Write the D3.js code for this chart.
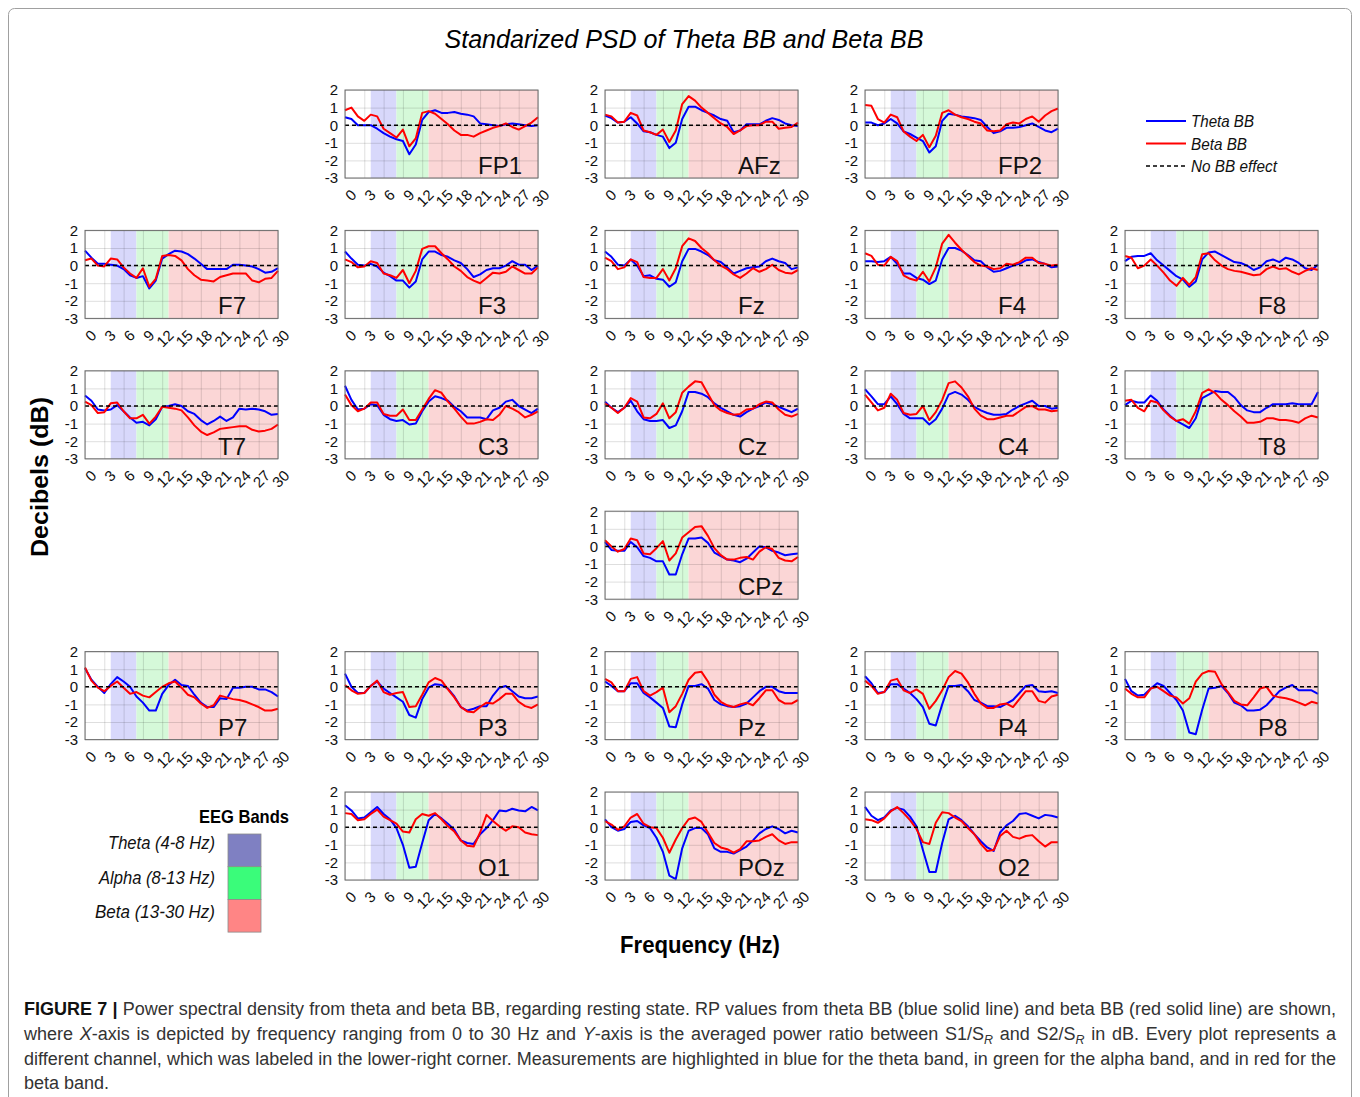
<!DOCTYPE html>
<html>
<head>
<meta charset="utf-8">
<script src="https://cdn.jsdelivr.net/npm/d3@7/dist/d3.min.js"></script>
<style>
  html, body { margin: 0; padding: 0; background: #fff; }
  svg { display: block; font-family: "Liberation Sans", Arial, sans-serif; }
</style>
</head>
<body>
<svg id="chart" width="1360" height="1097"></svg>
<script>
// ---- data ----
const freqs = [0,1,2,3,4,5,6,7,8,9,10,11,12,13,14,15,16,17,18,19,20,21,22,23,24,25,26,27,28,29,30];
const xTicks = [0,3,6,9,12,15,18,21,24,27,30];
const yTicks = [-3,-2,-1,0,1,2];
const bandNames = ['Theta (4-8 Hz)', 'Alpha (8-13 Hz)', 'Beta (13-30 Hz)'];
const bandEdges = [[4, 8], [8, 13], [13, 30]];
const seriesNames = ['Theta BB', 'Beta BB', 'No BB effect'];

const channels = ['FP1','AFz','FP2','F7','F3','Fz','F4','F8','T7','C3','Cz','C4','T8','CPz','P7','P3','Pz','P4','P8','O1','POz','O2'];

// theta BB, one row per channel (same order as channels)
const thetaBB = [
  [0.45,0.35,0.0,0.0,0.0,-0.2,-0.45,-0.65,-0.8,-0.9,-1.65,-1.1,0.3,0.75,0.85,0.7,0.7,0.75,0.65,0.6,0.5,0.1,0.05,0.0,-0.05,0.05,0.1,0.05,0.0,-0.05,0.0], // FP1
  [0.55,0.4,0.15,0.2,0.45,0.1,-0.35,-0.4,-0.55,-0.65,-1.3,-1.0,0.35,1.05,1.05,0.85,0.7,0.55,0.35,0.25,-0.4,-0.3,0.05,0.05,0.05,0.25,0.4,0.3,0.1,0.0,-0.05], // AFz
  [0.15,0.15,0.0,0.1,0.35,0.1,-0.35,-0.5,-0.7,-0.9,-1.55,-1.2,0.25,0.65,0.6,0.5,0.45,0.4,0.3,-0.1,-0.45,-0.35,-0.15,-0.15,-0.1,0.0,0.1,-0.1,-0.3,-0.4,-0.2], // FP2
  [0.85,0.45,0.1,0.1,0.05,0.0,-0.2,-0.55,-0.7,-0.6,-1.3,-0.85,0.4,0.65,0.85,0.8,0.65,0.4,0.1,-0.2,-0.2,-0.2,-0.2,0.05,0.05,0.0,-0.05,-0.2,-0.4,-0.35,-0.15], // F7
  [0.8,0.4,0.05,0.0,0.1,-0.05,-0.4,-0.6,-0.85,-0.85,-1.25,-0.9,0.35,0.8,0.8,0.6,0.5,0.3,0.15,-0.2,-0.65,-0.5,-0.25,-0.15,-0.15,0.0,0.25,0.05,0.05,-0.25,0.0], // F3
  [0.8,0.5,0.05,0.0,0.35,0.0,-0.6,-0.55,-0.75,-0.8,-1.2,-0.95,0.25,0.95,0.95,0.8,0.6,0.3,0.2,-0.1,-0.45,-0.3,-0.15,-0.1,-0.05,0.25,0.4,0.25,0.15,-0.2,-0.1], // Fz
  [0.25,0.25,0.2,0.25,0.5,0.1,-0.45,-0.45,-0.7,-0.8,-1.05,-0.85,0.35,1.0,1.0,0.85,0.6,0.3,0.25,-0.1,-0.35,-0.3,-0.15,0.0,0.1,0.3,0.35,0.2,0.1,-0.1,-0.05], // F4
  [0.25,0.5,0.55,0.55,0.7,0.3,0.0,-0.3,-0.6,-0.8,-1.2,-0.9,0.35,0.75,0.8,0.6,0.4,0.2,0.15,0.0,-0.25,-0.1,0.25,0.35,0.2,0.45,0.35,0.15,-0.15,-0.25,0.05], // F8
  [0.6,0.3,-0.2,-0.25,-0.2,0.05,-0.3,-0.65,-0.95,-0.9,-1.1,-0.75,-0.05,0.0,0.1,0.0,-0.3,-0.45,-0.8,-1.05,-0.85,-0.6,-0.85,-0.65,-0.15,-0.2,-0.15,-0.2,-0.3,-0.5,-0.45], // T7
  [1.15,0.35,-0.2,-0.15,0.1,0.05,-0.5,-0.75,-0.85,-0.8,-1.05,-1.0,-0.3,0.25,0.55,0.45,0.3,-0.05,-0.3,-0.65,-0.65,-0.65,-0.75,-0.25,-0.1,0.25,0.35,0.0,-0.2,-0.4,-0.15], // C3
  [0.25,-0.1,-0.35,-0.1,0.3,-0.3,-0.75,-0.85,-0.85,-0.8,-1.25,-1.1,-0.3,0.8,0.8,0.7,0.5,0.15,-0.1,-0.3,-0.5,-0.6,-0.35,-0.15,0.0,0.2,0.1,-0.05,-0.2,-0.35,-0.15], // Cz
  [0.95,0.55,0.1,0.1,0.55,0.1,-0.45,-0.7,-0.7,-0.7,-1.05,-0.75,-0.15,0.65,0.8,0.65,0.35,-0.05,-0.25,-0.4,-0.5,-0.5,-0.45,-0.2,0.0,0.15,0.3,0.0,0.0,-0.15,-0.1], // C4
  [0.05,0.3,0.2,0.2,0.6,0.3,-0.2,-0.55,-0.85,-1.05,-1.25,-0.7,0.45,0.65,0.85,0.8,0.8,0.5,0.05,-0.25,-0.35,-0.35,-0.1,0.1,0.1,0.1,0.15,0.1,0.1,0.1,0.8], // T8
  [0.25,-0.2,-0.25,-0.25,0.25,-0.05,-0.55,-0.65,-0.85,-0.85,-1.6,-1.6,-0.45,0.45,0.45,0.5,0.2,-0.35,-0.55,-0.75,-0.8,-0.9,-0.7,-0.35,0.0,-0.05,-0.25,-0.35,-0.5,-0.45,-0.4], // CPz
  [1.05,0.4,0.0,-0.35,0.15,0.55,0.3,0.0,-0.55,-0.9,-1.35,-1.35,-0.4,0.1,0.4,0.1,0.05,-0.45,-0.9,-1.15,-1.15,-0.65,-0.7,-0.05,-0.05,0.0,0.0,-0.15,-0.15,-0.3,-0.55], // P7
  [0.75,0.0,-0.35,-0.35,0.05,0.3,-0.1,-0.35,-0.6,-0.85,-1.6,-1.75,-0.7,-0.05,0.15,0.1,-0.1,-0.55,-1.15,-1.35,-1.25,-1.1,-1.1,-0.5,-0.05,0.05,-0.25,-0.55,-0.65,-0.65,-0.55], // P3
  [0.3,0.05,-0.25,-0.25,0.2,0.2,-0.35,-0.6,-0.9,-1.2,-2.25,-2.3,-1.0,0.05,0.05,0.15,-0.1,-0.75,-1.0,-1.1,-1.15,-1.1,-0.95,-0.6,-0.25,0.0,0.0,-0.25,-0.35,-0.35,-0.35], // Pz
  [0.6,0.2,-0.35,-0.3,0.15,0.15,-0.1,-0.35,-0.7,-1.15,-2.1,-2.2,-1.0,0.05,0.05,0.1,-0.25,-0.75,-0.9,-1.1,-1.1,-1.15,-0.95,-0.75,-0.35,0.05,0.1,-0.25,-0.3,-0.25,-0.35], // P4
  [0.45,-0.25,-0.5,-0.45,-0.1,0.2,0.05,-0.35,-0.75,-1.35,-2.6,-2.7,-1.3,-0.1,-0.05,0.05,-0.35,-0.9,-1.05,-1.35,-1.35,-1.3,-1.05,-0.65,-0.25,-0.05,0.1,-0.2,-0.2,-0.2,-0.4], // P8
  [1.25,0.95,0.5,0.55,0.85,1.15,0.75,0.45,-0.05,-1.0,-2.3,-2.25,-0.9,0.4,0.75,0.5,0.2,-0.15,-0.75,-0.9,-0.95,-0.4,-0.05,0.4,0.95,0.9,1.05,0.95,0.9,1.15,0.95], // O1
  [0.45,0.0,-0.2,-0.1,0.3,0.35,0.1,-0.05,-0.6,-1.4,-2.75,-2.95,-1.2,-0.2,-0.05,-0.05,-0.4,-1.2,-1.4,-1.4,-1.5,-1.3,-1.1,-0.75,-0.35,-0.1,0.05,-0.1,-0.35,-0.2,-0.3], // POz
  [1.15,0.65,0.4,0.55,0.95,1.1,1.0,0.6,0.05,-1.3,-2.55,-2.55,-0.9,0.45,0.65,0.4,0.05,-0.4,-0.8,-1.15,-1.35,-0.3,0.1,0.35,0.75,0.8,0.65,0.5,0.7,0.65,0.55]  // O2
];

// beta BB, one row per channel
const betaBB = [
  [0.85,1.0,0.5,0.25,0.6,0.5,-0.2,-0.45,-0.7,-0.25,-1.2,-0.75,0.7,0.8,0.65,0.35,0.05,-0.3,-0.55,-0.55,-0.65,-0.45,-0.3,-0.15,-0.05,0.1,-0.1,-0.25,-0.05,0.15,0.45], // FP1
  [0.6,0.5,0.15,0.2,0.7,0.55,-0.3,-0.4,-0.55,-0.25,-0.95,-0.3,1.2,1.65,1.4,1.0,0.7,0.4,0.1,-0.1,-0.5,-0.3,-0.05,0.0,0.0,0.2,0.2,-0.2,-0.15,-0.1,0.15], // AFz
  [1.15,1.1,0.35,0.15,0.6,0.45,-0.35,-0.65,-0.9,-0.55,-1.25,-0.6,0.7,0.85,0.6,0.45,0.35,0.2,0.1,-0.3,-0.35,-0.3,0.05,0.15,0.1,0.35,0.5,0.2,0.55,0.8,0.95], // FP2
  [0.3,0.4,0.0,-0.05,0.4,0.35,-0.1,-0.45,-0.7,-0.15,-1.2,-0.75,0.55,0.6,0.55,0.3,-0.2,-0.55,-0.8,-0.85,-0.9,-0.65,-0.55,-0.45,-0.45,-0.45,-0.85,-0.95,-0.75,-0.7,-0.3], // F7
  [0.35,0.2,-0.1,-0.05,0.25,0.15,-0.45,-0.55,-0.7,-0.25,-1.0,-0.3,0.95,1.1,1.1,0.7,0.35,-0.05,-0.3,-0.65,-0.85,-1.0,-0.7,-0.4,-0.45,-0.35,-0.05,-0.25,-0.45,-0.45,-0.1], // F3
  [0.45,0.25,-0.2,-0.1,0.35,0.2,-0.65,-0.7,-0.7,-0.2,-0.85,-0.15,1.1,1.55,1.4,1.0,0.7,0.3,0.0,-0.2,-0.5,-0.7,-0.45,-0.15,-0.35,-0.2,0.05,-0.25,-0.4,-0.45,-0.25], // Fz
  [0.7,0.55,0.05,0.0,0.5,0.25,-0.55,-0.75,-0.85,-0.35,-0.9,-0.1,1.25,1.75,1.3,0.9,0.55,0.2,0.0,-0.05,-0.2,-0.15,0.1,0.05,0.2,0.45,0.45,0.15,0.1,0.0,0.05], // F4
  [0.55,0.45,-0.15,0.0,0.35,0.0,-0.4,-0.85,-1.15,-0.7,-1.1,-0.65,0.65,0.7,0.3,0.0,-0.2,-0.3,-0.35,-0.45,-0.55,-0.5,-0.2,-0.05,-0.2,-0.15,-0.35,-0.5,-0.3,-0.15,-0.25], // F8
  [0.25,0.05,-0.4,-0.35,0.15,0.2,-0.3,-0.7,-0.7,-0.5,-1.0,-0.6,-0.05,-0.1,-0.15,-0.25,-0.65,-1.1,-1.45,-1.65,-1.5,-1.3,-1.25,-1.2,-1.15,-1.15,-1.35,-1.45,-1.4,-1.3,-1.05], // T7
  [0.65,0.05,-0.3,-0.15,0.2,0.2,-0.45,-0.55,-0.55,-0.2,-0.8,-0.8,-0.2,0.4,0.9,0.75,0.25,-0.15,-0.6,-1.0,-1.0,-0.9,-0.75,-0.8,-0.5,0.0,-0.15,-0.35,-0.65,-0.5,-0.3], // C3
  [0.15,-0.1,-0.4,-0.1,0.45,0.25,-0.65,-0.7,-0.45,0.15,-0.7,-0.35,0.75,1.1,1.4,1.35,0.7,0.05,-0.25,-0.4,-0.5,-0.45,-0.2,-0.15,0.1,0.25,0.2,-0.2,-0.5,-0.6,-0.45], // Cz
  [0.65,0.2,-0.25,-0.1,0.7,0.35,-0.4,-0.5,-0.45,0.0,-0.8,-0.35,0.35,1.3,1.4,1.05,0.55,-0.15,-0.55,-0.75,-0.75,-0.65,-0.55,-0.55,-0.3,-0.05,0.0,-0.2,-0.2,-0.3,-0.25], // C4
  [0.3,0.35,-0.1,-0.3,0.3,0.2,-0.25,-0.6,-0.85,-0.75,-1.0,-0.3,0.75,0.95,0.75,0.35,0.05,-0.3,-0.6,-0.95,-0.95,-0.9,-0.7,-0.7,-0.8,-0.8,-0.85,-0.95,-0.7,-0.55,-0.65], // T8
  [0.35,0.0,-0.3,-0.15,0.45,0.35,-0.4,-0.45,-0.1,0.3,-0.8,-0.4,0.5,0.8,1.1,1.15,0.6,-0.1,-0.5,-0.75,-0.75,-0.65,-0.6,-0.75,-0.3,-0.05,-0.15,-0.65,-0.8,-0.85,-0.6], // CPz
  [1.1,0.35,-0.05,-0.25,0.05,0.3,-0.05,-0.4,-0.3,-0.5,-0.6,-0.3,0.0,0.2,0.3,-0.05,-0.45,-0.6,-0.95,-1.2,-1.05,-0.5,-0.6,-0.7,-0.75,-0.85,-1.0,-1.15,-1.35,-1.35,-1.25], // P7
  [0.1,-0.2,-0.4,-0.35,0.05,0.35,-0.3,-0.45,-0.35,-0.3,-1.15,-1.1,-0.45,0.25,0.5,0.35,-0.15,-0.6,-1.15,-1.4,-1.45,-1.15,-0.9,-0.95,-0.7,-0.4,-0.4,-0.85,-1.1,-1.2,-1.0], // P3
  [0.45,0.25,-0.25,-0.25,0.45,0.55,-0.25,-0.5,-0.3,-0.05,-1.45,-1.1,-0.4,0.4,0.8,0.85,0.3,-0.45,-0.85,-1.05,-1.15,-1.0,-0.9,-1.05,-0.65,-0.2,-0.2,-0.75,-0.95,-0.95,-0.75], // Pz
  [0.35,0.05,-0.4,-0.3,0.35,0.45,-0.2,-0.35,-0.15,-0.4,-1.25,-0.8,-0.2,0.55,0.9,0.75,0.25,-0.4,-0.95,-1.2,-1.2,-1.0,-0.95,-1.15,-0.7,-0.25,-0.25,-0.8,-0.9,-0.55,-0.45], // P4
  [-0.1,-0.4,-0.6,-0.6,-0.1,0.0,-0.25,-0.5,-0.6,-0.95,-0.65,0.3,0.75,0.9,0.85,0.15,-0.3,-0.8,-1.0,-1.05,-0.6,-0.1,0.0,-0.5,-0.6,-0.65,-0.75,-0.9,-1.05,-0.85,-0.95], // P8
  [0.8,0.75,0.4,0.45,0.75,1.0,0.6,0.4,0.2,-0.25,-0.3,0.45,0.75,0.65,0.8,0.45,0.05,-0.25,-0.75,-1.05,-1.1,-0.3,0.7,0.35,0.05,-0.2,0.05,0.0,-0.3,-0.4,-0.45], // O1
  [0.35,0.15,-0.15,0.05,0.55,0.75,0.2,0.0,-0.05,-0.6,-1.45,-0.7,-0.05,0.45,0.55,0.3,-0.3,-0.9,-1.15,-1.25,-1.45,-1.25,-0.8,-0.8,-0.75,-0.55,-0.4,-0.75,-0.95,-0.85,-0.85], // POz
  [0.45,0.4,0.25,0.5,0.9,1.15,0.8,0.4,-0.1,-0.85,-0.95,0.25,0.85,0.8,0.55,0.35,-0.05,-0.4,-0.95,-1.35,-1.3,-0.5,-0.2,-0.55,-0.65,-0.5,-0.45,-0.8,-1.1,-0.85,-0.85]  // O2
];

// ---- layout ----
// grid slot [row, col] of every channel panel
const slots = [
  [0,1],[0,2],[0,3],
  [1,0],[1,1],[1,2],[1,3],[1,4],
  [2,0],[2,1],[2,2],[2,3],[2,4],
  [3,2],
  [4,0],[4,1],[4,2],[4,3],[4,4],
  [5,1],[5,2],[5,3]
];

const FONT = '"Liberation Sans", Arial, sans-serif';
const W = 193, H = 88;
const bandFill = ['#d8d8fb', '#d5f9d9', '#fbd6d6'];
const bandSwatch = ['#7f80c2', '#3afc7a', '#ff8585'];
const lineColors = ['#0000ff', '#ff0000'];

const svg = d3.select('#chart');

// outer figure frame
svg.append('rect')
  .attr('x', 8.5).attr('y', 8.5)
  .attr('width', 1343).attr('height', 1120)
  .attr('rx', 6)
  .attr('fill', 'none')
  .attr('stroke', '#a0a0a0');

// title
svg.append('text')
  .attr('x', 684).attr('y', 48)
  .attr('text-anchor', 'middle')
  .attr('font-size', 26)
  .attr('font-style', 'italic')
  .attr('textLength', 479)
  .attr('lengthAdjust', 'spacingAndGlyphs')
  .text('Standarized PSD of Theta BB and Beta BB');

const x = d3.scaleLinear().domain([0, 30]).range([0, W]);
const y = d3.scaleLinear().domain([-3, 2]).range([H, 0]);
const line = d3.line()
  .x((d, j) => x(freqs[j]))
  .y(d => y(d));

/**
 * One channel panel: bands, grid, curves, zero line, ticks and name
 */
function drawPanel(i) {
  const [r, c] = slots[i];
  const g = svg.append('g')
    .attr('transform', `translate(${85 + 260 * c},${90 + 140.4 * r})`);

  g.append('rect').attr('width', W).attr('height', H).attr('fill', '#fff');

  // frequency bands
  g.selectAll('rect.band')
    .data(bandEdges)
    .join('rect')
    .attr('class', 'band')
    .attr('x', d => x(d[0]))
    .attr('width', d => x(d[1]) - x(d[0]))
    .attr('y', 0)
    .attr('height', H)
    .attr('fill', (d, k) => bandFill[k]);

  // grid lines
  const gx = g.append('g')
    .attr('transform', `translate(0,${H})`)
    .call(d3.axisBottom(x).tickValues(xTicks).tickSize(-H).tickFormat(''));
  const gy = g.append('g')
    .call(d3.axisLeft(y).tickValues(yTicks).tickSize(-W).tickFormat(''));
  [gx, gy].forEach(a => {
    a.select('.domain').remove();
    a.selectAll('line').attr('stroke', '#000').attr('stroke-opacity', 0.13);
  });

  // curves: theta first, beta on top
  g.selectAll('path.series')
    .data([thetaBB[i], betaBB[i]])
    .join('path')
    .attr('class', 'series')
    .attr('d', line)
    .attr('fill', 'none')
    .attr('stroke', (d, k) => lineColors[k])
    .attr('stroke-width', 2)
    .attr('stroke-linejoin', 'round');

  // no-effect reference
  g.append('line')
    .attr('x1', 0).attr('x2', W)
    .attr('y1', y(0)).attr('y2', y(0))
    .attr('stroke', '#000')
    .attr('stroke-width', 1.5)
    .attr('stroke-dasharray', '4,3');

  // box
  g.append('rect')
    .attr('width', W).attr('height', H)
    .attr('fill', 'none')
    .attr('stroke', '#6b6b6b');

  // tick labels
  const ax = g.append('g')
    .attr('transform', `translate(0,${H})`)
    .call(d3.axisBottom(x).tickValues(xTicks).tickSize(0).tickPadding(0).tickFormat(d => String(d)));
  ax.select('.domain').remove();
  ax.selectAll('text')
    .attr('y', 0).attr('dy', null)
    .attr('font-size', 15)
    .attr('font-family', FONT)
    .attr('fill', '#111')
    .attr('text-anchor', 'end')
    .attr('dominant-baseline', 'central')
    .attr('transform', 'translate(8,14) rotate(-45)');

  const ay = g.append('g')
    .call(d3.axisLeft(y).tickValues(yTicks).tickSize(0).tickPadding(7).tickFormat(d => String(d)));
  ay.select('.domain').remove();
  ay.selectAll('text')
    .attr('font-size', 15)
    .attr('font-family', FONT)
    .attr('fill', '#111');

  // channel name
  g.append('text')
    .attr('x', 133)
    .attr('y', H - 4)
    .attr('font-size', 24)
    .attr('fill', '#111')
    .text(channels[i]);
}

channels.forEach((name, i) => drawPanel(i));

// ---- series legend (top right) ----
const leg = svg.append('g').attr('transform', 'translate(1146,121)');
const legRows = leg.selectAll('g')
  .data(seriesNames)
  .join('g')
  .attr('transform', (d, k) => `translate(0,${k * 22.5})`);
legRows.append('line')
  .attr('x1', 0).attr('x2', 40)
  .attr('stroke', (d, k) => k < 2 ? lineColors[k] : '#000')
  .attr('stroke-width', (d, k) => k < 2 ? 2 : 1.5)
  .attr('stroke-dasharray', (d, k) => k < 2 ? null : '4,3');
legRows.append('text')
  .attr('x', 45).attr('y', 6)
  .attr('font-size', 17)
  .attr('font-style', 'italic')
  .attr('fill', '#111')
  .attr('textLength', (d, k) => [63, 56, 86][k])
  .attr('lengthAdjust', 'spacingAndGlyphs')
  .text(d => d);

// ---- band legend (bottom left) ----
svg.append('text')
  .attr('x', 244).attr('y', 823)
  .attr('text-anchor', 'middle')
  .attr('font-size', 19)
  .attr('font-weight', 'bold')
  .attr('textLength', 90)
  .attr('lengthAdjust', 'spacingAndGlyphs')
  .text('EEG Bands');

const bandLeg = svg.append('g').attr('transform', 'translate(228,834)');
bandLeg.selectAll('rect')
  .data(bandNames)
  .join('rect')
  .attr('x', 0)
  .attr('y', (d, k) => k * 32.7)
  .attr('width', 33)
  .attr('height', 32.7)
  .attr('fill', (d, k) => bandSwatch[k])
  .attr('stroke', '#8a8a8a')
  .attr('stroke-width', 0.8);
bandLeg.selectAll('text')
  .data(bandNames)
  .join('text')
  .attr('x', -13)
  .attr('y', (d, k) => 15 + k * 34.5)
  .attr('text-anchor', 'end')
  .attr('font-size', 18)
  .attr('font-style', 'italic')
  .attr('fill', '#111')
  .attr('textLength', (d, k) => [107, 116, 120][k])
  .attr('lengthAdjust', 'spacingAndGlyphs')
  .text(d => d);

// ---- axis titles ----
svg.append('text')
  .attr('transform', 'translate(40,477) rotate(-90)')
  .attr('text-anchor', 'middle')
  .attr('dominant-baseline', 'central')
  .attr('font-size', 23)
  .attr('font-weight', 'bold')
  .attr('textLength', 160)
  .attr('lengthAdjust', 'spacingAndGlyphs')
  .text('Decibels (dB)');

svg.append('text')
  .attr('x', 700).attr('y', 953)
  .attr('text-anchor', 'middle')
  .attr('font-size', 24)
  .attr('font-weight', 'bold')
  .attr('textLength', 160)
  .attr('lengthAdjust', 'spacingAndGlyphs')
  .text('Frequency (Hz)');

// ---- caption ----
const captionLines = [
  [{ t: 'FIGURE 7 |', b: true }, { t: ' Power spectral density from theta and beta BB, regarding resting state. RP values from theta BB (blue solid line) and beta BB (red solid line) are shown,' }],
  [{ t: 'where ' }, { t: 'X', i: true }, { t: '-axis is depicted by frequency ranging from 0 to 30 Hz and ' }, { t: 'Y', i: true },
   { t: '-axis is the averaged power ratio between S1/S' }, { t: 'R', i: true, sub: true }, { t: ' and S2/S' }, { t: 'R', i: true, sub: true },
   { t: ' in dB. Every plot represents a' }],
  [{ t: 'different channel, which was labeled in the lower-right corner. Measurements are highlighted in blue for the theta band, in green for the alpha band, and in red for the' }],
  [{ t: 'beta band.' }]
];

captionLines.forEach((segs, li) => {
  const txt = svg.append('text')
    .attr('x', 24)
    .attr('y', 1015 + li * 24.8)
    .attr('font-size', 18)
    .attr('fill', '#333');
  let shifted = false;
  segs.forEach(s => {
    const ts = txt.append('tspan').text(s.t);
    if (s.b) ts.attr('font-weight', 'bold').attr('fill', '#111');
    if (s.i) ts.attr('font-style', 'italic');
    if (s.sub) { ts.attr('font-size', 12.5).attr('dy', 4); shifted = true; }
    else if (shifted) { ts.attr('dy', -4); shifted = false; }
  });
  // justify every line but the last
  if (li < captionLines.length - 1) {
    const full = segs.map(s => s.t).join('');
    const spaces = (full.match(/ /g) || []).length;
    const w = txt.node().getComputedTextLength();
    txt.attr('word-spacing', ((1312 - w) / spaces).toFixed(3));
  }
});
</script>
</body>
</html>
